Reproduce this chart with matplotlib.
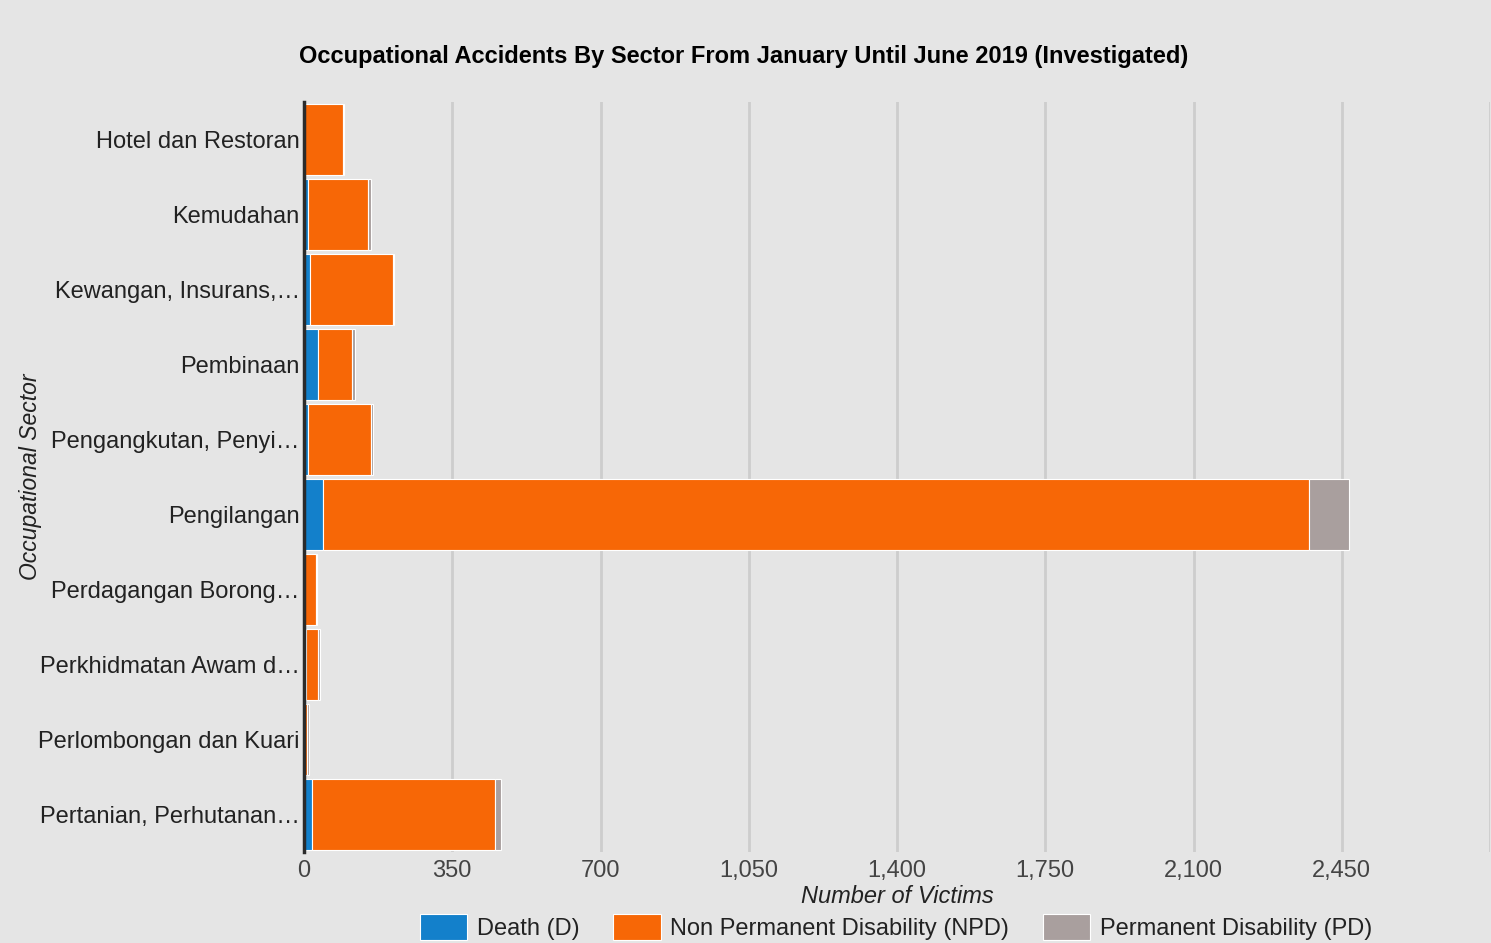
import matplotlib
matplotlib.use('Agg')
import matplotlib.pyplot as plt
import numpy as np

plt.rcParams['font.family'] = ['Liberation Sans', 'DejaVu Sans']

# 数据
sectors = ['Hotel dan Restoran', 'Kemudahan', 'Kewangan, Insurans,\u2026', 'Pembinaan',
           'Pengangkutan, Penyi\u2026', 'Pengilangan', 'Perdagangan Borong\u2026',
           'Perkhidmatan Awam d\u2026', 'Perlombongan dan Kuari', 'Pertanian, Perhutanan\u2026']
death = [0, 9, 14, 34, 9, 45, 0, 5, 0, 19]
npd = [92, 143, 196, 80, 150, 2327, 28, 29, 7, 432]
pd_ = [2, 5, 2, 6, 3, 94, 2, 4, 4, 14]
xticks = [0, 350, 700, 1050, 1400, 1750, 2100, 2450, 2800]

C = {
    'bg': '#E5E5E5',
    'blue': '#1380CB',
    'orange': '#F76706',
    'grey': '#A99F9E',
    'grid': '#CDCDCD',
    'text': '#444444',
}

fig = plt.figure(figsize=(14.91, 9.43), dpi=100, facecolor=C['bg'])
ax = fig.add_axes([304 / 1491, 91 / 943, 1186 / 1491, 750 / 943])
ax.set_facecolor(C['bg'])

y = np.arange(len(sectors))
d = np.array(death)
n = np.array(npd)
p = np.array(pd_)
h = 0.95
ax.barh(y, d, h, color=C['blue'], edgecolor='white', linewidth=0.8, label='Death (D)', zorder=3)
ax.barh(y, n, h, left=d, color=C['orange'], edgecolor='white', linewidth=0.8,
        label='Non Permanent Disability (NPD)', zorder=3)
ax.barh(y, p, h, left=d + n, color=C['grey'], edgecolor='white', linewidth=0.8,
        label='Permanent Disability (PD)', zorder=3)

ax.set_ylim(len(sectors) - 0.5, -0.5)
ax.set_xlim(0, 2800)
ax.set_yticks(y)
ax.set_yticklabels(sectors, fontsize=17, color='#222222')
ax.set_xticks(xticks)
ax.set_xticklabels([f'{v:,}' if v < 2800 else '' for v in xticks], fontsize=17, color=C['text'])
ax.tick_params(length=0, pad=6)
ax.tick_params(axis='y', pad=3)
ax.grid(axis='x', color=C['grid'], linewidth=2, zorder=0)
for s in ['top', 'right', 'bottom']:
    ax.spines[s].set_visible(False)
ax.spines['left'].set_color('#2b2b2b')
ax.spines['left'].set_linewidth(2.5)
ax.spines['left'].set_zorder(4)

ax.set_xlabel('Number of Victims', fontsize=17, fontstyle='italic', color='#222222', labelpad=2)
ax.set_ylabel('Occupational Sector', fontsize=16.5, fontstyle='italic', color='#222222')
ax.yaxis.set_label_coords(-262 / 1186, 0.5)

fig.text(744 / 1491, 1 - 56 / 943, 'Occupational Accidents By Sector From January Until June 2019 (Investigated)',
         ha='center', va='center', fontsize=17, fontweight='bold', color='black')

fig.legend(loc='center', bbox_to_anchor=(896 / 1491, 1 - 927 / 943), ncol=3, frameon=False,
           fontsize=17, handlelength=2.0, handleheight=1.3, columnspacing=1.45,
           handletextpad=0.4, labelcolor='#222222')

plt.savefig('out.png', dpi=100, facecolor=C['bg'])
plt.close()
